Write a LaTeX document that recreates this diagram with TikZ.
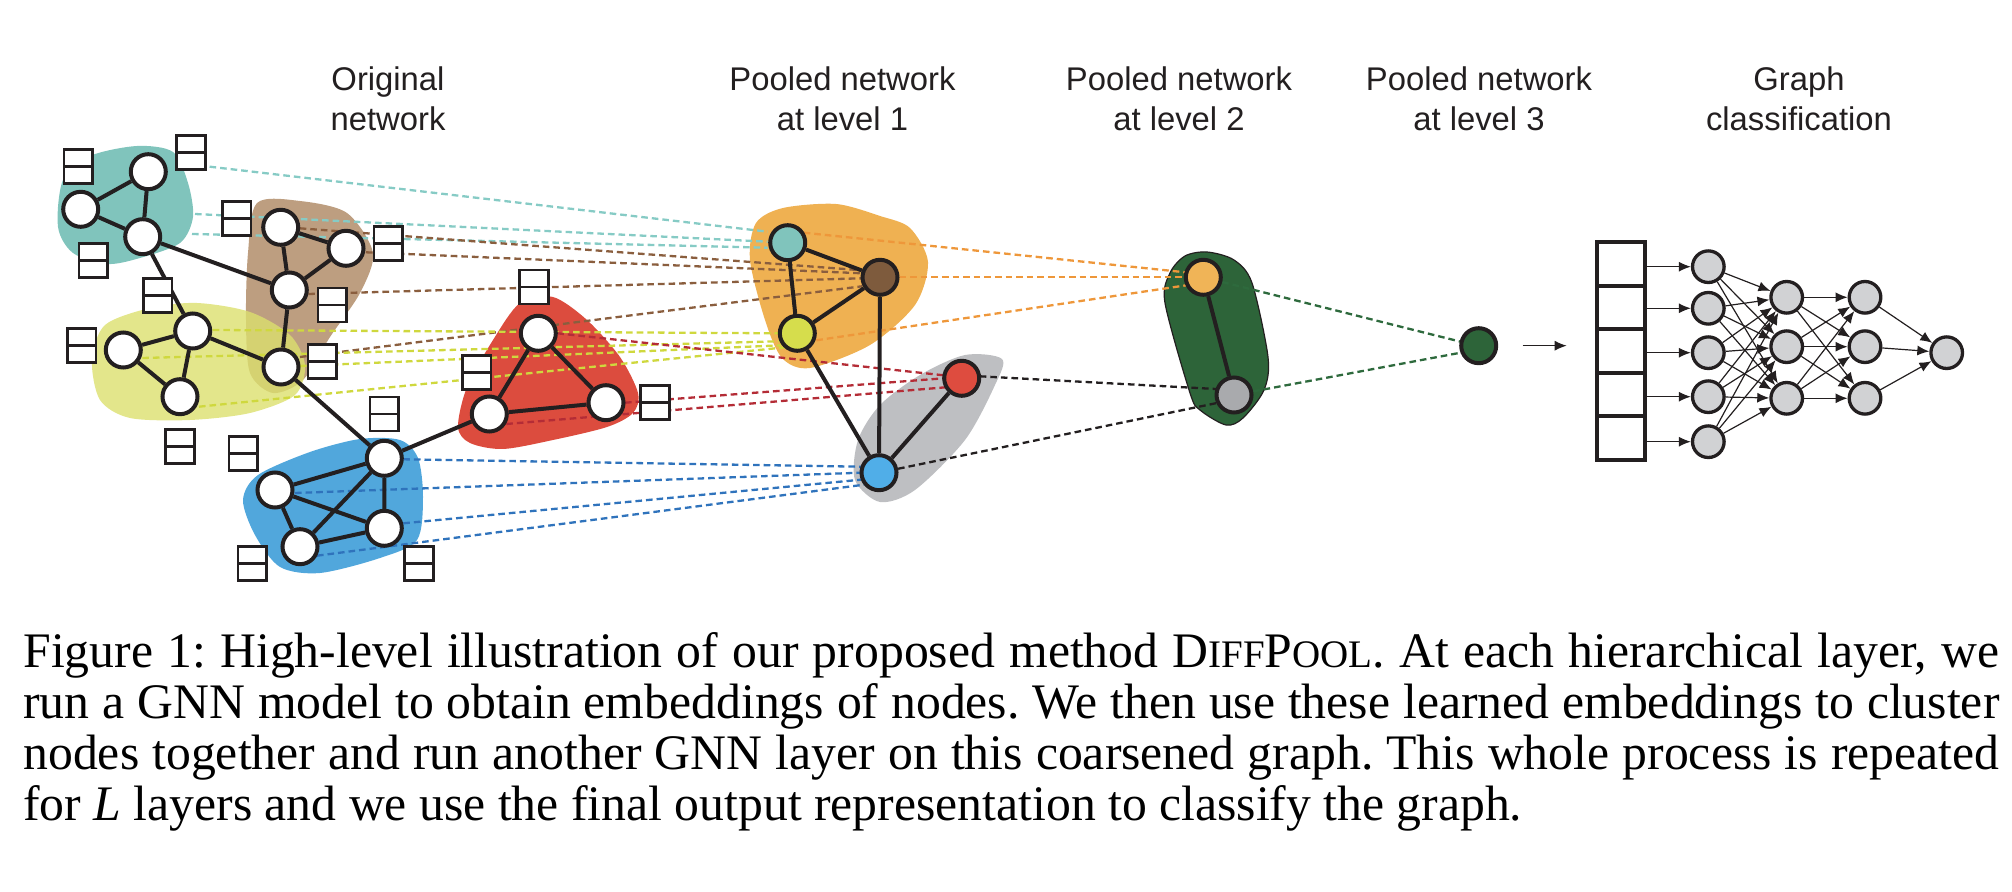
\documentclass[tikz,border=0pt]{standalone}
\usepackage{fontspec}
\setmainfont{Liberation Serif}
\newfontfamily\lblfont{Liberation Sans}
\usetikzlibrary{arrows.meta,calc}
\pgfdeclarelayer{blobs}
\pgfdeclarelayer{dashes}
\pgfdeclarelayer{edges}
\pgfsetlayers{blobs,dashes,edges,main}
\definecolor{dk}{HTML}{231F20}
\definecolor{tealb}{HTML}{80C4BC}
\definecolor{teald}{HTML}{86CBC5}
\definecolor{brownb}{HTML}{BD9E80}
\definecolor{brownd}{HTML}{8A5E3E}
\definecolor{brownn}{HTML}{7E5B3D}
\definecolor{yelb}{HTML}{DCE06E}
\definecolor{yeld}{HTML}{CFD83E}
\definecolor{yeln}{HTML}{D6DD4C}
\definecolor{redb}{HTML}{DC4C3E}
\definecolor{redd}{HTML}{B42C36}
\definecolor{redn}{HTML}{DE4C3F}
\definecolor{blueb}{HTML}{51A7DC}
\definecolor{blued}{HTML}{2F73BC}
\definecolor{bluen}{HTML}{50AEE8}
\definecolor{orb}{HTML}{EFB152}
\definecolor{ord}{HTML}{EE973A}
\definecolor{orn}{HTML}{F0B457}
\definecolor{grb}{HTML}{BEBFC2}
\definecolor{grn}{HTML}{A9AAAD}
\definecolor{gnb}{HTML}{2D6439}
\definecolor{gnd}{HTML}{2E6A3D}
\definecolor{nng}{HTML}{D1D2D4}
\newcommand{\mysmc}[1]{{\fontsize{19.5}{20}\selectfont #1}}
\begin{document}
\begin{tikzpicture}[x=0.5pt,y=-0.5pt,
  gn/.style={circle, draw=dk, line width=2pt, fill=white, minimum size=17.5pt, inner sep=0pt},
  fb/.style={rectangle, draw=dk, fill=white, line width=1.35pt, minimum width=14.3pt, minimum height=17pt, inner sep=0pt,
    path picture={\draw[dk, line width=1.35pt] (path picture bounding box.west) -- (path picture bounding box.east);}},
  ed/.style={draw=dk, line width=2pt},
  dsh/.style={line width=1.15pt, dash pattern=on 3.3pt off 2pt},
  nn/.style={circle, draw=dk, line width=1.65pt, fill=nng, minimum size=15.8pt, inner sep=0pt},
  nnar/.style={-{Latex[length=6pt,width=5pt]}, line width=0.6pt, draw=dk},
  vc/.style={rectangle, draw=dk, line width=2pt, fill=white, minimum width=24.15pt, minimum height=21.77pt, inner sep=0pt},
  lbl/.style={font=\lblfont\fontsize{16.4}{20.15}\selectfont, align=center, text=dk, inner sep=0pt, anchor=base}]
\useasboundingbox (0,0) rectangle (2012,892);

% ---------- labels ----------
\node[lbl] (l0) at (388,131) {Original\\network};
\node[lbl] (l1) at (842.5,131) {Pooled network\\at level 1};
\node[lbl] (l2) at (1179,131) {Pooled network\\at level 2};
\node[lbl] (l3) at (1479,131) {Pooled network\\at level 3};
\node[lbl] (l4) at (1799,131) {Graph\\classification};

% ---------- original graph nodes ----------
\node[gn] (T1) at (148.3,171.7) {};
\node[gn] (T2) at (80.7,209.3) {};
\node[gn] (T3) at (142.7,236.7) {};
\node[gn] (B1) at (280.7,227.3) {};
\node[gn] (B2) at (346,248.3) {};
\node[gn] (B3) at (289.3,290) {};
\node[gn] (B4) at (281,367) {};
\node[gn] (Y1) at (192.7,331) {};
\node[gn] (Y2) at (123.3,350) {};
\node[gn] (Y3) at (180,396.7) {};
\node[gn] (R1) at (538.3,333.3) {};
\node[gn] (R2) at (489.3,414) {};
\node[gn] (R3) at (606,402.7) {};
\node[gn] (U1) at (384.3,458.3) {};
\node[gn] (U2) at (275,490) {};
\node[gn] (U3) at (300,546.7) {};
\node[gn] (U4) at (384.3,528.3) {};

% ---------- feature boxes ----------
\node[fb] (fA) at (78.3,166.7) {};
\node[fb] (fB) at (191,152.3) {};
\node[fb] (fC) at (93.3,260.7) {};
\node[fb] (fD) at (236.7,218.3) {};
\node[fb] (fE) at (388.3,243.3) {};
\node[fb] (fF) at (157.7,295.7) {};
\node[fb] (fG) at (332.3,305) {};
\node[fb] (fH) at (81.7,345.7) {};
\node[fb] (fI) at (322.3,361.7) {};
\node[fb] (fJ) at (534,287) {};
\node[fb] (fK) at (180,446.5) {};
\node[fb] (fM) at (476.7,372.7) {};
\node[fb] (fN) at (655,402.7) {};
\node[fb] (fO) at (384.3,414) {};
\node[fb] (fP) at (243.3,453.3) {};
\node[fb] (fQ) at (252.3,563.3) {};
\node[fb] (fR) at (419,563.3) {};

% ---------- pooled nodes ----------
\node[gn, fill=tealb] (PT) at (787.7,242.7) {};
\node[gn, fill=brownn] (PB) at (880,277.3) {};
\node[gn, fill=yeln] (PY) at (797.3,333.3) {};
\node[gn, fill=redn] (PR) at (961.7,378.3) {};
\node[gn, fill=bluen] (PU) at (879,472.7) {};
\node[gn, fill=orn] (PO) at (1203.3,277.3) {};
\node[gn, fill=grn] (PG) at (1234,395) {};
\node[gn, fill=gnb] (PF) at (1478.7,345.7) {};

% ---------- coordinates for teal dashed starts ----------
\coordinate (tA) at (178,163);
\coordinate (tB) at (195,214);
\coordinate (tC) at (192,234);

% ---------- blobs ----------
\begin{pgfonlayer}{blobs}
\fill[tealb] plot[smooth cycle] coordinates {(90,156) (137,146) (173,152) (188,183) (193,217) (180,243) (140,258) (107,264) (73,253) (58,227) (63,180)};
\fill[brownb] plot[smooth cycle] coordinates {(257,203) (300,201) (347,213) (373,253) (360,293) (330,337) (303,380) (273,393) (250,373) (246,320) (248,253)};
\fill[yelb, opacity=0.8] plot[smooth cycle] coordinates {(197,303) (250,312) (290,335) (305,365) (295,395) (250,413) (190,420) (130,418) (100,400) (92,360) (105,325) (150,308)};
\fill[redb] plot[smooth cycle] coordinates {(520,303) (553,297) (587,320) (620,357) (638,393) (633,413) (607,427) (553,440) (503,449) (470,443) (458,427) (467,387) (493,340)};
\fill[blueb] plot[smooth cycle] coordinates {(360,439) (400,440) (418,458) (423,497) (417,540) (380,558) (320,573) (280,567) (255,535) (243,500) (258,475) (310,452)};
\fill[orb] plot[smooth cycle] coordinates {(756,223) (783,208) (836,204) (880,216) (910,228) (928,262) (915,305) (870,345) (810,368) (782,358) (765,320) (750,260)};
\fill[grb] plot[smooth cycle] coordinates {(1002,359) (995,385) (965,440) (915,490) (880,502) (855,480) (858,440) (880,405) (920,375) (965,355)};
\filldraw[fill=gnb, draw=dk, line width=0.6pt] plot[smooth cycle] coordinates {(1185,256) (1207,252) (1234,260) (1252,283) (1268,357) (1264,390) (1243,418) (1226,425) (1200,410) (1190,393) (1165,303) (1170,273)};
\end{pgfonlayer}

% ---------- dashed assignment lines ----------
\begin{pgfonlayer}{dashes}
\draw[dsh, teald] (tA) -- ($(PT)+(-20,-11)$);
\draw[dsh, teald] (tB) -- ($(PT)+(-20,-1)$);
\draw[dsh, teald] (tC) -- ($(PT)+(-20,5)$);
\draw[dsh, brownd] ($(B1)+(19,1)$) -- ($(PB)+(-18,-7)$);
\draw[dsh, brownd] ($(B2)+(20,4)$) -- ($(PB)+(-18,-4)$);
\draw[dsh, brownd] ($(B3)+(19,4)$) -- ($(PB)+(-18,1)$);
\draw[dsh, brownd] ($(B4)+(19,-10)$) -- ($(PB)+(-18,9)$);
\draw[dsh, yeld] ($(Y1)+(20,-1)$) -- ($(PY)+(-18,0)$);
\draw[dsh, yeld] ($(Y2)+(19,8)$) -- ($(PY)+(-18,8)$);
\draw[dsh, yeld] ($(B4)+(19,-1)$) -- ($(PY)+(-16,12)$);
\draw[dsh, yeld] ($(Y3)+(19,10)$) -- ($(PY)+(-12,14)$);
\draw[dsh, redd] ($(R1)+(19,0)$) -- ($(PR)+(-18,-3)$);
\draw[dsh, redd] ($(R3)+(19,0)$) -- ($(PR)+(-18,0)$);
\draw[dsh, redd] ($(R2)+(17,10)$) -- ($(PR)+(-16,9)$);
\draw[dsh, blued] ($(U1)+(19,1)$) -- ($(PU)+(-18,-6)$);
\draw[dsh, blued] ($(U2)+(20,3)$) -- ($(PU)+(-18,0)$);
\draw[dsh, blued] ($(U4)+(19,-5)$) -- ($(PU)+(-18,7)$);
\draw[dsh, blued] ($(U3)+(17,9)$) -- ($(PU)+(-15,12)$);
\draw[dsh, ord] ($(PT)+(16,-10)$) -- ($(PO)+(-18,-5)$);
\draw[dsh, ord] (PB) -- ($(PO)+(-18,0)$);
\draw[dsh, ord] ($(PY)+(19,7)$) -- ($(PO)+(-17,8)$);
\draw[dsh, dk] ($(PR)+(18,-2)$) -- ($(PG)+(-18,-6)$);
\draw[dsh, dk] (PU) -- ($(PG)+(-17,8)$);
\draw[dsh, gnd] (PO) -- ($(PF)+(-18,-4)$);
\draw[dsh, gnd] (PG) -- ($(PF)+(-18,7)$);
\end{pgfonlayer}

% ---------- solid edges ----------
\begin{pgfonlayer}{edges}
\draw[ed] (T1)--(T2) (T1)--(T3) (T2)--(T3) (T3)--(B3) (T3)--(Y1)
  (B1)--(B2) (B1)--(B3) (B2)--(B3) (B3)--(B4)
  (Y1)--(Y2) (Y1)--(Y3) (Y2)--(Y3) (Y1)--(B4) (B4)--(U1)
  (U1)--(R2) (R1)--(R2) (R1)--(R3) (R2)--(R3)
  (U1)--(U2) (U1)--(U3) (U1)--(U4) (U2)--(U3) (U2)--(U4) (U3)--(U4);
\draw[ed] (PT)--(PB) (PT)--(PY) (PB)--(PY) (PB)--(PU) (PY)--(PU) (PR)--(PU);
\draw[ed] (PO)--(PG);
\end{pgfonlayer}

% ---------- classification ----------
\draw[nnar] ($(PF)+(44,0)$) -- ($(PF)+(88,0)$);
\node[vc] (v1) at (1621.15,263.77) {};
\node[vc] (v2) at (1621.15,307.31) {};
\node[vc] (v3) at (1621.15,350.85) {};
\node[vc] (v4) at (1621.15,394.39) {};
\node[vc] (v5) at (1621.15,437.93) {};
\node[nn] (a1) at (1708.3,266.7) {};
\node[nn] (a2) at (1708.3,308.3) {};
\node[nn] (a3) at (1708.3,352.7) {};
\node[nn] (a4) at (1708.3,396.7) {};
\node[nn] (a5) at (1708.3,441.7) {};
\node[nn] (b1) at (1786.7,297.3) {};
\node[nn] (b2) at (1786.7,346.7) {};
\node[nn] (b3) at (1786.7,398.3) {};
\node[nn] (c1) at (1865,297.3) {};
\node[nn] (c2) at (1865,346.7) {};
\node[nn] (c3) at (1865,398.3) {};
\node[nn] (o1) at (1946.7,352.7) {};
\foreach \i in {1,...,5} {\draw[nnar] (v\i.east |- a\i) -- (a\i);}
\foreach \i in {1,...,5} {\foreach \j in {1,2,3} {\draw[nnar] (a\i) -- (b\j);}}
\foreach \i in {1,2,3} {\foreach \j in {1,2,3} {\draw[nnar] (b\i) -- (c\j);}}
\foreach \i in {1,2,3} {\draw[nnar] (c\i) -- (o1);}

% ---------- caption ----------
\node[anchor=base west, text width=988pt, align=justify, inner sep=0pt, font=\fontsize{24.85}{25.6}\selectfont\frenchspacing] (cap) at (23,667)
{Figure 1: High-level illustration of our proposed method D\mysmc{IFF}P\mysmc{OOL}. At each hierarchical layer, we\linebreak
run a GNN model to obtain embeddings of nodes. We then use these learned embeddings to cluster\linebreak
nodes together and run another GNN layer on this coarsened graph. This whole process is repeated\linebreak
for \textit{L} layers and we use the final output representation to classify the graph.};
\end{tikzpicture}
\end{document}
